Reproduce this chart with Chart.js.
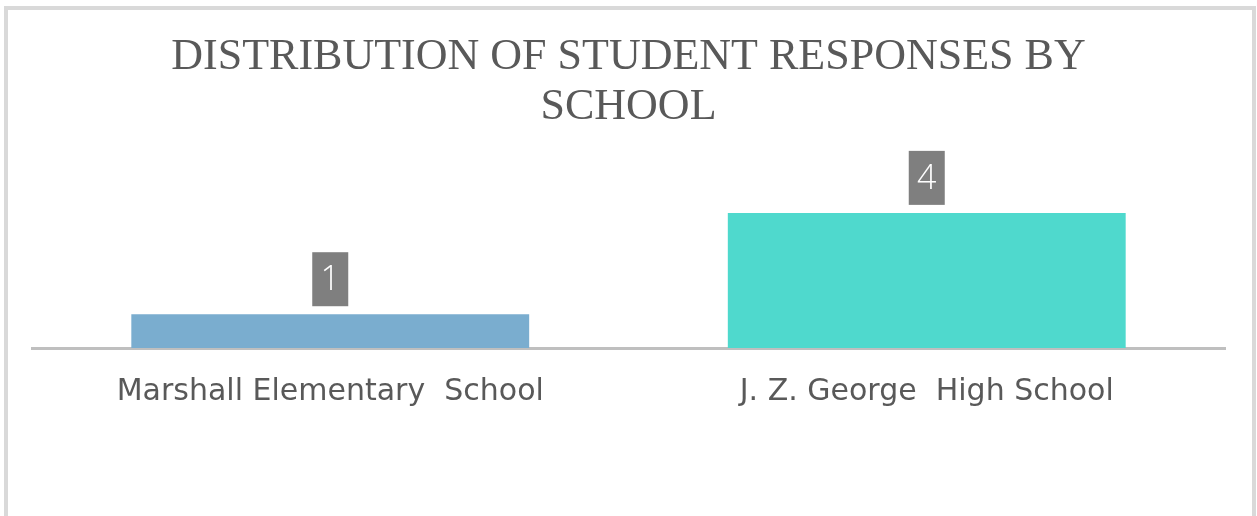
<!DOCTYPE html>
<html>
<head>
<meta charset="utf-8">
<script src="https://cdn.jsdelivr.net/npm/chart.js@4/dist/chart.umd.min.js"></script>
<style>
  html, body { margin: 0; padding: 0; background: #fff; }
  #wrap { position: relative; width: 1257px; height: 516px; overflow: hidden; }
  #frame {
    position: absolute; left: 4px; top: 6px; width: 1244px; height: 600px;
    border: 4px solid #d9d9d9; pointer-events: none;
  }
  #myChart { position: absolute; left: 0; top: 0; }
</style>
</head>
<body>
<div id="wrap">
  <canvas id="myChart" width="1257" height="516"></canvas>
  <div id="frame"></div>
</div>
<script>
// Chart data
var titleLines = ['DISTRIBUTION OF STUDENT RESPONSES BY', 'SCHOOL'];
var schools = ['Marshall Elementary  School', 'J. Z. George  High School'];
var responses = [1, 4];
var barColors = ['#7aadcf', '#4fd9cd'];

// Draws the grey value boxes above each bar
var boxLabels = {
    id: 'boxLabels',
    afterDatasetsDraw: function(chart) {
        var ctx = chart.ctx;
        var meta = chart.getDatasetMeta(0);
        meta.data.forEach(function(bar, i) {
            var w = 36, h = 54;
            var x = bar.x - w / 2;
            var y = bar.y - 8 - h;
            ctx.save();
            ctx.fillStyle = '#7f7f7f';
            ctx.fillRect(x, y, w, h);
            ctx.fillStyle = '#ffffff';
            ctx.font = '300 34px "Open Sans", "DejaVu Sans", sans-serif';
            ctx.textAlign = 'center';
            ctx.textBaseline = 'middle';
            ctx.fillText(String(responses[i]), bar.x, y + h / 2 + 1);
            ctx.restore();
        });
    }
};

var ctx = document.getElementById('myChart').getContext('2d');
var myChart = new Chart(ctx, {
    type: 'bar',
    data: {
        labels: schools,
        datasets: [{
            data: responses,
            backgroundColor: barColors,
            borderWidth: 0,
            barPercentage: 0.667,
            categoryPercentage: 1
        }]
    },
    options: {
        responsive: false,
        animation: false,
        layout: {
            padding: { left: 32, right: 32, top: 0, bottom: 80 }
        },
        plugins: {
            legend: { display: false },
            tooltip: { enabled: false },
            title: {
                display: true,
                text: titleLines,
                color: '#595959',
                font: { family: '"Liberation Serif", serif', size: 44, weight: 'normal', lineHeight: 1.14 },
                padding: { top: 32, bottom: 13 }
            }
        },
        scales: {
            y: {
                display: false,
                min: 0,
                max: 6
            },
            x: {
                grid: { display: false, drawTicks: false },
                border: { display: true, color: '#bfbfbf', width: 3 },
                ticks: {
                    color: '#595959',
                    padding: 26,
                    font: { family: '"DejaVu Sans", sans-serif', size: 30, weight: 'normal' }
                }
            }
        }
    },
    plugins: [boxLabels]
});
</script>
</body>
</html>
